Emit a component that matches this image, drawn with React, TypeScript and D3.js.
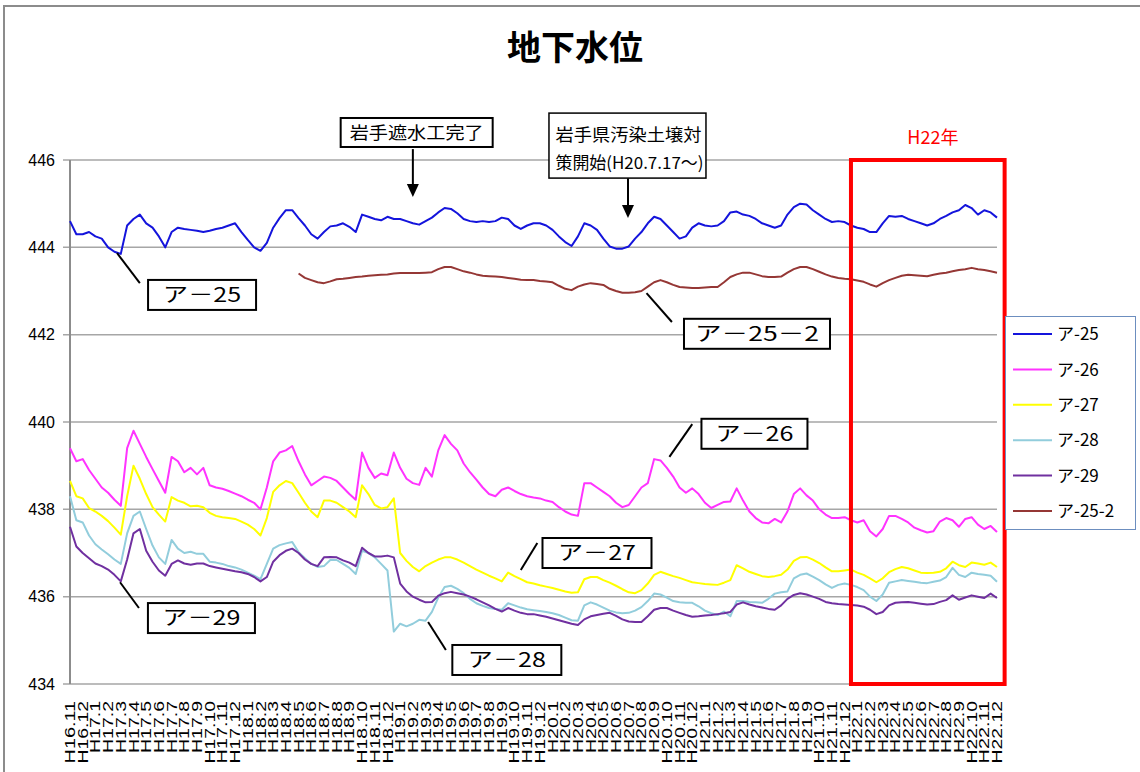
import * as d3 from 'd3';

// month tick labels (Heisei year.month), one per month
const monthLabels = (
  'H16.11 H16.12 ' +
  'H17.1 H17.2 H17.3 H17.4 H17.5 H17.6 H17.7 H17.8 H17.9 H17.10 H17.11 H17.12 ' +
  'H18.1 H18.2 H18.3 H18.4 H18.5 H18.6 H18.7 H18.8 H18.9 H18.10 H18.11 H18.12 ' +
  'H19.1 H19.2 H19.3 H19.4 H19.5 H19.6 H19.7 H19.8 H19.9 H19.10 H19.11 H19.12 ' +
  'H20.1 H20.2 H20.3 H20.4 H20.5 H20.6 H20.7 H20.8 H20.9 H20.10 H20.11 H20.12 ' +
  'H21.1 H21.2 H21.3 H21.4 H21.5 H21.6 H21.7 H21.8 H21.9 H21.10 H21.11 H21.12 ' +
  'H22.1 H22.2 H22.3 H22.4 H22.5 H22.6 H22.7 H22.8 H22.9 H22.10 H22.11 H22.12'
).split(' ');

const yTicks = [434, 436, 438, 440, 442, 444, 446];

// readings every half month from H16.11
const steps = d3.range(0, 73.5, 0.5);

const a25 = [
  444.6, 444.3, 444.3, 444.35, 444.25, 444.2, 444.0, 443.9, 443.85, 444.5,
  444.65, 444.75, 444.55, 444.45, 444.25, 444.0, 444.35, 444.45, 444.42, 444.4,
  444.38, 444.35, 444.38, 444.42, 444.45, 444.5, 444.55, 444.35, 444.17, 444.0,
  443.92, 444.1, 444.45, 444.67, 444.85, 444.85, 444.67, 444.5, 444.3, 444.2,
  444.35, 444.48, 444.5, 444.55, 444.47, 444.35, 444.75, 444.7, 444.65, 444.62,
  444.7, 444.65, 444.65, 444.6, 444.55, 444.52, 444.6, 444.68, 444.8, 444.9,
  444.88, 444.78, 444.65, 444.6, 444.58, 444.6, 444.58, 444.6, 444.68, 444.65,
  444.5, 444.42, 444.5, 444.55, 444.55, 444.5, 444.4, 444.25, 444.12, 444.03,
  444.25, 444.55, 444.5, 444.4, 444.2, 444.02, 443.97, 443.97, 444.02, 444.2,
  444.35, 444.55, 444.7, 444.65, 444.5, 444.35, 444.2, 444.25, 444.45, 444.55,
  444.5, 444.48, 444.5, 444.6, 444.8, 444.82, 444.75, 444.72, 444.65, 444.55,
  444.5, 444.45, 444.5, 444.75, 444.92, 445.0, 444.98, 444.85, 444.75, 444.65,
  444.58, 444.6, 444.58, 444.5, 444.45, 444.42, 444.35, 444.35, 444.55, 444.72,
  444.7, 444.72, 444.65, 444.6, 444.55, 444.5, 444.55, 444.65, 444.72, 444.8,
  444.85, 444.97, 444.9, 444.75, 444.85, 444.8, 444.68,
];

const a26 = [
  439.4, 439.1, 439.15, 438.9, 438.7, 438.5, 438.38, 438.22, 438.08, 439.4,
  439.8, 439.5, 439.2, 438.92, 438.65, 438.38, 439.2, 439.1, 438.85, 438.95,
  438.8, 438.95, 438.55, 438.5, 438.47, 438.42, 438.36, 438.3, 438.22, 438.15,
  438.0, 438.5, 439.1, 439.3, 439.35, 439.45, 439.1, 438.8, 438.55, 438.65,
  438.75, 438.72, 438.65, 438.5, 438.35, 438.22, 439.3, 438.95, 438.72, 438.82,
  438.78, 439.3, 438.95, 438.7, 438.6, 438.56, 438.95, 438.75, 439.35, 439.7,
  439.5, 439.35, 439.05, 438.85, 438.68, 438.5, 438.35, 438.3, 438.45, 438.5,
  438.42, 438.35, 438.3, 438.27, 438.25, 438.2, 438.17, 438.05, 437.95, 437.88,
  437.85, 438.6, 438.6, 438.5, 438.4, 438.3, 438.15, 438.05, 438.1, 438.3,
  438.5, 438.6, 439.15, 439.12, 438.95, 438.75, 438.5, 438.38, 438.48, 438.35,
  438.15, 438.03, 438.1, 438.17, 438.18, 438.48, 438.2, 437.95, 437.8, 437.7,
  437.68, 437.78, 437.7, 437.95, 438.35, 438.48, 438.32, 438.2, 438.0, 437.88,
  437.8, 437.8, 437.82, 437.75, 437.7, 437.75, 437.5, 437.38, 437.55, 437.85,
  437.85, 437.78, 437.7, 437.58, 437.52, 437.47, 437.5, 437.72, 437.8, 437.75,
  437.6, 437.78, 437.82, 437.65, 437.55, 437.62, 437.48,
];

const a27 = [
  438.65, 438.3, 438.25, 438.03, 437.95, 437.85, 437.73, 437.58, 437.42, 438.3,
  439.0, 438.7, 438.35, 438.05, 437.88, 437.72, 438.28, 438.2, 438.15, 438.07,
  438.08, 438.05, 437.92, 437.85, 437.82, 437.8, 437.78, 437.72, 437.65, 437.55,
  437.4, 437.8, 438.4, 438.55, 438.65, 438.6, 438.38, 438.15, 437.95, 437.82,
  438.2, 438.2, 438.15, 438.05, 437.95, 437.82, 438.55, 438.35, 438.1, 438.02,
  438.05, 438.25, 437.0, 436.82, 436.68, 436.58, 436.7, 436.78, 436.85, 436.9,
  436.9, 436.85, 436.78, 436.7, 436.62, 436.55, 436.48, 436.42, 436.35, 436.55,
  436.47, 436.4, 436.33, 436.3, 436.26, 436.23, 436.2, 436.16, 436.12, 436.09,
  436.1, 436.4, 436.45, 436.45, 436.38, 436.32, 436.25, 436.17, 436.1, 436.08,
  436.15, 436.3, 436.5, 436.57, 436.52, 436.47, 436.43, 436.38, 436.33, 436.31,
  436.29, 436.28, 436.27, 436.32, 436.38, 436.72, 436.65, 436.57, 436.52, 436.47,
  436.45, 436.47, 436.5, 436.62, 436.82, 436.9, 436.91, 436.85, 436.77, 436.67,
  436.58, 436.58, 436.6, 436.62, 436.55, 436.5, 436.42, 436.33, 436.42, 436.56,
  436.63, 436.68, 436.65, 436.6, 436.55, 436.54, 436.55, 436.57, 436.65, 436.8,
  436.72, 436.68, 436.78, 436.76, 436.73, 436.78, 436.68,
];

const a28 = [
  438.3, 437.75, 437.7, 437.4, 437.2, 437.08, 436.97, 436.85, 436.75, 437.45,
  437.85, 437.95, 437.55, 437.17, 436.9, 436.75, 437.3, 437.1, 437.0, 437.03,
  436.98, 436.98, 436.8, 436.78, 436.75, 436.7, 436.67, 436.62, 436.55, 436.48,
  436.4, 436.75, 437.1, 437.18, 437.22, 437.25, 437.02, 436.88, 436.75, 436.68,
  436.7, 436.84, 436.84, 436.75, 436.66, 436.52, 437.05, 437.0, 436.9, 436.75,
  436.6, 435.2, 435.38, 435.32, 435.38, 435.47, 435.45, 435.65, 435.98, 436.22,
  436.25, 436.18, 436.08, 435.95, 435.85, 435.79, 435.74, 435.72, 435.7, 435.85,
  435.8, 435.75, 435.71, 435.69, 435.67, 435.65, 435.62, 435.58, 435.52, 435.46,
  435.45, 435.8, 435.87, 435.82, 435.75, 435.68, 435.64, 435.62, 435.63, 435.68,
  435.76, 435.9, 436.07, 436.05, 435.98, 435.9, 435.87, 435.86, 435.86, 435.78,
  435.68, 435.62, 435.58, 435.66, 435.55, 435.9, 435.9, 435.88, 435.87, 435.86,
  435.95, 436.07, 436.1, 436.12, 436.42, 436.5, 436.53, 436.46, 436.38, 436.28,
  436.2, 436.27, 436.3, 436.27, 436.22, 436.15, 436.0, 435.9, 436.05, 436.32,
  436.35, 436.38, 436.36, 436.34, 436.32, 436.31, 436.34, 436.37, 436.45, 436.66,
  436.5, 436.45, 436.55, 436.52, 436.5, 436.48, 436.34,
];

const a29 = [
  437.6, 437.15, 437.0, 436.88, 436.76, 436.7, 436.62, 436.5, 436.35, 436.85,
  437.45, 437.55, 437.05, 436.8, 436.6, 436.48, 436.75, 436.83, 436.76, 436.73,
  436.76, 436.76, 436.7, 436.67, 436.64, 436.61, 436.58, 436.56, 436.52, 436.45,
  436.35, 436.45, 436.8, 436.95, 437.05, 437.1, 437.0, 436.85, 436.75, 436.7,
  436.9, 436.91, 436.9, 436.83, 436.78, 436.7, 437.12, 437.0, 436.92, 436.92,
  436.94, 436.9, 436.3, 436.12, 436.0, 435.93, 435.87, 435.88, 436.02, 436.08,
  436.11, 436.08, 436.05, 436.0, 435.94, 435.87, 435.8, 435.72, 435.66, 435.74,
  435.68, 435.63, 435.6, 435.6, 435.57, 435.54, 435.5, 435.46, 435.42, 435.38,
  435.35, 435.48, 435.55, 435.58, 435.61, 435.63, 435.56, 435.48, 435.43, 435.42,
  435.42, 435.55, 435.7, 435.74, 435.74, 435.68, 435.63, 435.58, 435.54, 435.55,
  435.57, 435.58, 435.6, 435.62, 435.65, 435.82, 435.87, 435.82, 435.78, 435.75,
  435.72, 435.7, 435.8, 435.95, 436.04, 436.08, 436.05, 436.0, 435.95, 435.88,
  435.85, 435.83, 435.82, 435.81, 435.8, 435.77, 435.7, 435.6, 435.65, 435.8,
  435.86, 435.87, 435.88, 435.86, 435.84, 435.82, 435.83, 435.88, 435.92, 436.03,
  435.93, 435.98, 436.03, 436.0, 435.97, 436.07, 435.97,
];

// ア-25-2 starts in H18.5
const a25b = [
  ...Array(36).fill(null),
  443.4, 443.3, 443.25, 443.2, 443.18, 443.22, 443.27, 443.28, 443.3, 443.32,
  443.33, 443.35, 443.36, 443.37, 443.38, 443.4, 443.41, 443.41, 443.41, 443.41,
  443.42, 443.43, 443.5, 443.55, 443.55, 443.5, 443.45, 443.42, 443.38, 443.35,
  443.34, 443.33, 443.32, 443.3, 443.28, 443.26, 443.25, 443.25, 443.23, 443.22,
  443.2, 443.12, 443.05, 443.02, 443.1, 443.15, 443.18, 443.16, 443.14, 443.05,
  443.0, 442.96, 442.96, 442.97, 443.0, 443.1, 443.2, 443.25, 443.2, 443.14,
  443.09, 443.08, 443.07, 443.07, 443.08, 443.09, 443.09, 443.2, 443.32, 443.38,
  443.42, 443.42, 443.38, 443.34, 443.32, 443.32, 443.33, 443.42, 443.5, 443.55,
  443.55, 443.5, 443.44, 443.38, 443.33, 443.3, 443.28, 443.27, 443.24, 443.21,
  443.15, 443.1, 443.18, 443.25, 443.3, 443.35, 443.37, 443.36, 443.35, 443.34,
  443.37, 443.4, 443.42, 443.45, 443.48, 443.5, 443.53, 443.5, 443.48, 443.45,
  443.42,
];

const seriesNames = ['ア-25', 'ア-26', 'ア-27', 'ア-28', 'ア-29', 'ア-25-2'];
const seriesValues = [a25, a26, a27, a28, a29, a25b];
const seriesColors = ['#1414dc', '#ff33ff', '#ffff00', '#92cddc', '#7030a0', '#953735'];

// callout labels: anchor on the line, end of leader, box centre (month index, level)
const callouts = [
  { text: 'ア－25', from: [3.7, 443.87], to: [5.5, 443.18], box: [10.4, 442.91], w: 108, tw: 78 },
  { text: 'ア－25－2', from: [45.4, 442.95], to: [47.4, 442.29], box: [54.1, 442.02], w: 146, tw: 124 },
  { text: 'ア－26', from: [47.2, 439.2], to: [49.0, 439.95], box: [53.9, 439.73], w: 106, tw: 78 },
  { text: 'ア－27', from: [35.5, 436.61], to: [36.8, 437.23], box: [41.5, 437.0], w: 109, tw: 78 },
  { text: 'ア－28', from: [28.2, 435.42], to: [29.6, 434.78], box: [34.4, 434.55], w: 109, tw: 78 },
  { text: 'ア－29', from: [3.94, 436.33], to: [5.43, 435.74], box: [10.35, 435.51], w: 107, tw: 78 },
];

const FONT_JP = '"Noto Sans CJK JP", "Noto Sans", sans-serif';
const FONT_NUM = '"Liberation Sans", Arial, sans-serif';

const App = () => {
  const width = 1140;
  const height = 772;

  const x = d3.scaleLinear().domain([0, 73]).range([70, 997]);
  const y = d3.scaleLinear().domain([434, 446]).range([684, 160]);

  const line = d3
    .line<number | null>()
    .defined((d) => d !== null)
    .x((_, i) => x(steps[i]))
    .y((d) => y(d as number));

  const arrow = (t: number, v0: number, v1: number) => {
    const ax = x(t);
    const y0 = y(v0);
    const y1 = y(v1);
    return (
      <g>
        <line x1={ax} y1={y0} x2={ax} y2={y1 - 12} stroke="#000" strokeWidth={2} />
        <polygon points={`${ax - 6},${y1 - 13} ${ax + 6},${y1 - 13} ${ax},${y1}`} fill="#000" />
      </g>
    );
  };

  return (
    <svg
      width={width}
      height={height}
      style={{ position: 'absolute', left: 0, top: 0, background: '#fff' }}
    >
      <rect x={0} y={0} width={width} height={height} fill="#fff" />
      {/* outer chart frame */}
      <rect x={4} y={6} width={1160} height={800} fill="none" stroke="#8c8c8c" strokeWidth={2} />

      <text
        x={575}
        y={60}
        textAnchor="middle"
        fontFamily={FONT_JP}
        fontWeight={700}
        fontSize={34}
      >
        地下水位
      </text>

      {/* grid */}
      {yTicks.map((v) => (
        <g key={v}>
          <line x1={63} x2={x(73)} y1={y(v)} y2={y(v)} stroke="#a6a6a6" strokeWidth={1.5} />
          <text
            x={55}
            y={y(v)}
            dy="0.35em"
            textAnchor="end"
            fontFamily={FONT_NUM}
            fontSize={16}
          >
            {v}
          </text>
        </g>
      ))}
      <line x1={x(0)} x2={x(0)} y1={y(446)} y2={y(434)} stroke="#8c8c8c" strokeWidth={2} />

      {/* month labels */}
      {monthLabels.map((m, i) => (
        <text
          key={m}
          transform={`translate(${x(i)},701) rotate(-90)`}
          dy="0.36em"
          textAnchor="end"
          fontFamily={FONT_NUM}
          fontSize={14}
          textLength={m.length * 10.4}
          lengthAdjust="spacingAndGlyphs"
        >
          {m}
        </text>
      ))}

      {/* series */}
      {seriesValues.map((vals, k) => (
        <path
          key={seriesNames[k]}
          d={line(vals) ?? ''}
          fill="none"
          stroke={seriesColors[k]}
          strokeWidth={2}
          strokeLinejoin="round"
        />
      ))}

      {/* H22 highlight */}
      <rect
        x={x(61.5)}
        y={y(446)}
        width={x(73.6) - x(61.5)}
        height={y(434) - y(446)}
        fill="none"
        stroke="#ff0000"
        strokeWidth={4}
      />
      <text x={x(67.95)} y={y(446.53) + 7} textAnchor="middle" fill="#ff0000" fontFamily={FONT_JP} fontSize={18}>
        H22年
      </text>

      {/* event notes */}
      <rect
        x={x(27.3) - 76}
        y={y(446.63) - 14.5}
        width={152}
        height={29}
        fill="#fff"
        stroke="#000"
        strokeWidth={2}
      />
      <text
        x={x(27.3)}
        y={y(446.63)}
        dy="0.36em"
        textAnchor="middle"
        fontFamily={FONT_JP}
        fontSize={17}
        textLength={134}
        lengthAdjust="spacingAndGlyphs"
      >
        岩手遮水工完了
      </text>
      {arrow(27.0, 446.25, 445.15)}

      <rect
        x={x(43.9) - 78.5}
        y={y(446.33) - 32.5}
        width={157}
        height={65}
        fill="#fff"
        stroke="#000"
        strokeWidth={1.5}
      />
      <text
        x={x(43.9) - 72}
        y={y(446.33) - 11}
        fontFamily={FONT_JP}
        fontSize={17}
        textLength={146}
        lengthAdjust="spacingAndGlyphs"
        dy="0.36em"
      >
        岩手県汚染土壌対
      </text>
      <text
        x={x(43.9) - 72}
        y={y(446.33) + 17}
        fontFamily={FONT_JP}
        fontSize={17}
        textLength={148}
        lengthAdjust="spacingAndGlyphs"
        dy="0.36em"
      >
        策開始(H20.7.17～)
      </text>
      {arrow(43.94, 445.58, 444.67)}

      {/* callouts */}
      {callouts.map((c) => {
        const bx = x(c.box[0]);
        const by = y(c.box[1]);
        return (
          <g key={c.text}>
            <line
              x1={x(c.from[0])}
              y1={y(c.from[1])}
              x2={x(c.to[0])}
              y2={y(c.to[1])}
              stroke="#000"
              strokeWidth={2}
            />
            <rect
              x={bx - c.w / 2}
              y={by - 15}
              width={c.w}
              height={30}
              fill="#fff"
              stroke="#000"
              strokeWidth={2}
            />
            <text
              x={bx}
              y={by}
              dy="0.36em"
              textAnchor="middle"
              fontFamily={FONT_JP}
              fontSize={20}
              textLength={c.tw}
              lengthAdjust="spacingAndGlyphs"
            >
              {c.text}
            </text>
          </g>
        );
      })}

      {/* legend */}
      <rect x={1005.5} y={316.5} width={130} height={213} fill="#fff" stroke="#6c8ebf" strokeWidth={1} />
      {seriesNames.map((name, k) => {
        const ly = 334 + k * 35.4;
        return (
          <g key={name}>
            <line x1={1013} x2={1052} y1={ly} y2={ly} stroke={seriesColors[k]} strokeWidth={2} />
            <text x={1057} y={ly} dy="0.36em" fontFamily={FONT_JP} fontSize={17}>
              {name}
            </text>
          </g>
        );
      })}
    </svg>
  );
};

export default App;
